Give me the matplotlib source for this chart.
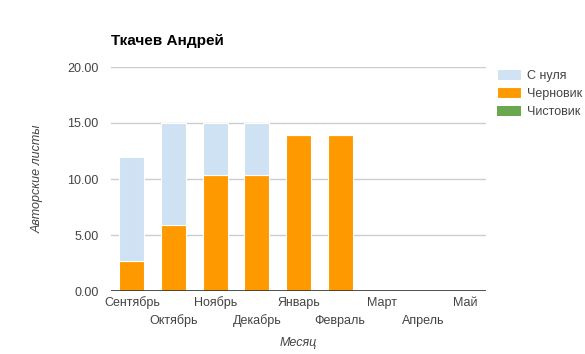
import matplotlib.pyplot as plt
import numpy as np

plt.rcParams["font.family"] = ["Liberation Sans", "DejaVu Sans"]

months = ["Сентябрь", "Октябрь", "Ноябрь", "Декабрь", "Январь",
          "Февраль", "Март", "Апрель", "Май"]
chernovik = [2.7, 5.9, 10.4, 10.4, 13.9, 13.9, 0, 0, 0]
s_nulya = [9.3, 9.1, 4.6, 4.6, 0, 0, 0, 0, 0]
chistovik = [0, 0, 0, 0, 0, 0, 0, 0, 0]
y_ticks = [0, 5, 10, 15, 20]

c_blue = "#cfe2f3"
c_orange = "#ff9900"
c_green = "#6aa84f"
c_text = "#444444"


def main() -> None:
    fig = plt.figure(figsize=(5.85, 3.54), dpi=100)
    ax = fig.add_axes([111 / 585, 63 / 354, 375 / 585, 224 / 354])

    x = np.arange(len(months))
    ch = np.array(chernovik)
    sn = np.array(s_nulya)
    cl = np.array(chistovik)

    # stacked: Черновик at the bottom, then Чистовик, then С нуля on top
    b1 = ax.bar(x, ch, width=0.6, color=c_orange, edgecolor="white", linewidth=0.8, zorder=2)
    b2 = ax.bar(x, cl, width=0.6, bottom=ch, color=c_green, linewidth=0, zorder=2)
    b3 = ax.bar(x, sn, width=0.6, bottom=ch + cl, color=c_blue, edgecolor="white",
                linewidth=0.8, zorder=2)

    ax.set_xlim(-0.5, len(months) - 0.5)
    ax.set_ylim(0, 20)
    ax.set_yticks(y_ticks)
    ax.set_yticklabels([f"{v:.2f}" for v in y_ticks])
    ax.yaxis.grid(True, color="#cccccc", linewidth=1)
    ax.axhline(0, color="#333333", linewidth=1.2, zorder=3)
    for s in ax.spines.values():
        s.set_visible(False)

    # month labels in two staggered rows
    ax.set_xticks(x)
    ax.set_xticklabels([])
    tr = ax.get_xaxis_transform()
    for i, m in enumerate(months):
        dy = -12 / 224 if i % 2 == 0 else -30 / 224
        ax.text(i, dy, m, transform=tr, ha="center", va="center", fontsize=9,
                color=c_text)

    ax.tick_params(axis="both", length=0, labelsize=9, labelcolor=c_text)
    ax.tick_params(axis="y", pad=9)

    ax.set_xlabel("Месяц", fontsize=9, style="italic", color=c_text, va="center")
    ax.xaxis.set_label_coords(0.5, -52 / 224)
    ax.set_ylabel("Авторские листы", fontsize=9, style="italic", color=c_text,
                  labelpad=17)

    fig.text(111 / 585, 1 - 41 / 354, "Ткачев Андрей", fontsize=11, fontweight="bold",
             va="center", ha="left", color="#000000")

    ax.legend([b3, b1, b2], ["С нуля", "Черновик", "Чистовик"], loc="upper left",
              bbox_to_anchor=(486 / 585, 1 - 58 / 354), bbox_transform=fig.transFigure,
              frameon=False, fontsize=9, handlelength=1.9, handleheight=0.9,
              handletextpad=0.5, labelspacing=0.45, labelcolor=c_text)

    fig.savefig("out.png", dpi=100)


if __name__ == "__main__":
    main()
